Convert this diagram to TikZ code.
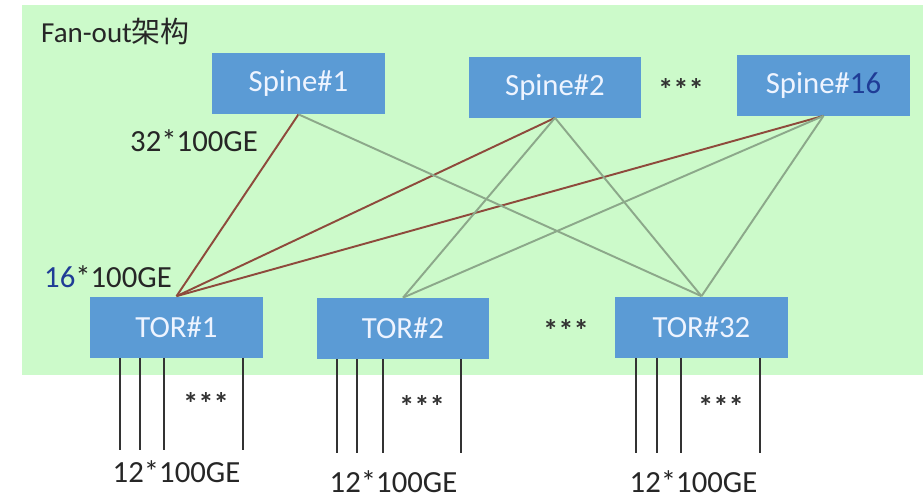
\documentclass[tikz,border=0pt]{standalone}
\usepackage{fontspec}
\setmainfont{Carlito}
\newfontfamily\cjk{Noto Sans CJK SC}
\usepackage{xcolor}
\definecolor{bggreen}{HTML}{CCFACA}
\definecolor{boxblue}{HTML}{5B9BD5}
\definecolor{boxtext}{HTML}{EEF4FF}
\definecolor{navy}{HTML}{1F3C96}
\definecolor{uplink}{HTML}{8E4A3C}
\definecolor{crosslink}{HTML}{8CA88A}

\begin{document}
\begin{tikzpicture}[x=0.02cm,y=-0.02cm,
  switchbox/.style={fill=boxblue,minimum width=3.46cm,minimum height=1.22cm,inner sep=0,text=boxtext,font=\fontsize{17.5}{20}\selectfont},
  lbl/.style={font=\fontsize{17.5}{20}\selectfont,text=black!85},
  dots/.style={font=\fontsize{17.5}{20}\selectfont\bfseries,text=black!80},
  red link/.style={draw=uplink,line width=1.1pt},
  grey link/.style={draw=crosslink,line width=1.1pt},
  port/.style={draw=black!80,line width=1.1pt}]
\useasboundingbox (0,0) rectangle (923,498);
\fill[bggreen] (22,5) rectangle (923,375);
\node[anchor=west,font=\fontsize{16.5}{20}\selectfont,text=black!85] (title) at (35,31) {Fan-out{\cjk 架构}};

% spine layer
\node[switchbox] (spine1) at (298.5,83.5) {Spine\#1};
\node[switchbox] (spine2) at (555,87) {Spine\#2};
\node[switchbox] (spine16) at (823.5,85) {Spine\#\textcolor{navy}{16}};
\node[dots] (sdots) at (681,89) {***};

% tor layer
\node[switchbox] (tor1) at (176.5,327) {TOR\#1};
\node[switchbox] (tor2) at (403,328.5) {TOR\#2};
\node[switchbox] (tor32) at (701.5,327) {TOR\#32};
\node[dots] (tdots) at (566,330) {***};

\node[lbl] (up32) at (194,141) {32*100GE};
\node[lbl] (up16) at (108,277) {\textcolor{navy}{16}*100GE};

% links
\foreach \s in {spine1,spine2,spine16}
  \draw[red link] (tor1.north) -- (\s.south);
\draw[grey link] (spine1.south) -- (tor32.north);
\foreach \s in {spine2,spine16}{
  \draw[grey link] (\s.south) -- (tor2.north);
  \draw[grey link] (\s.south) -- (tor32.north);
}

% server ports
\foreach \dx in {-56.5,-36.5,-12.5,66.5}
  \draw[port] (tor1.south) ++(\dx,0) -- ++(0,92);
\foreach \dx in {-66,-46,-20,58}
  \draw[port] (tor2.south) ++(\dx,0) -- ++(0,94);
\foreach \dx in {-65.5,-44.5,-20.5,58.5}
  \draw[port] (tor32.south) ++(\dx,0) -- ++(0,95);
\node[dots] (d1) at (206,403) {***};
\node[dots] (d2) at (422,406) {***};
\node[dots] (d32) at (721,406) {***};
\node[lbl] (p1) at (176.5,472) {12*100GE};
\node[lbl] (p2) at (393.5,482) {12*100GE};
\node[lbl] (p32) at (693.5,482) {12*100GE};
\end{tikzpicture}
\end{document}
